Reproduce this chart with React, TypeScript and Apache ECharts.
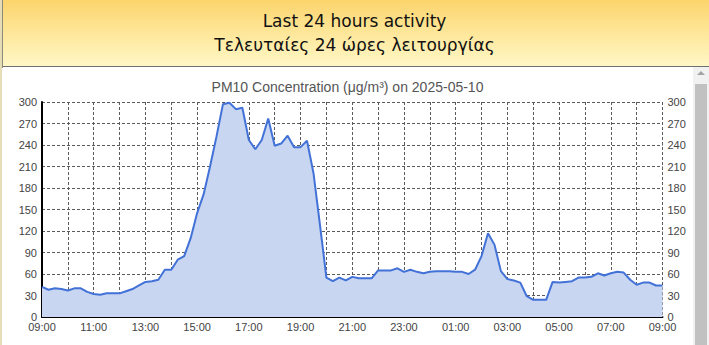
import React, { useEffect, useRef } from "react";
import * as echarts from "echarts";

// 15-minute timestamps from 09:00 to 09:00 next day
const timeLabels: string[] = (() => {
  const out: string[] = [];
  for (let i = 0; i <= 96; i++) {
    const m = (9 * 60 + i * 15) % (24 * 60);
    const h = Math.floor(m / 60);
    const mm = m % 60;
    out.push(`${String(h).padStart(2, "0")}:${String(mm).padStart(2, "0")}`);
  }
  return out;
})();

// PM10 values (µg/m³)
const pm10Values: number[] = [
  42, 38, 40, 39, 37, 40, 40, 35, // 09:00 - 10:45
  32, 31, 33, 33, 33, 36, 39, 44, // 11:00 - 12:45
  49, 50, 52, 66, 66, 80, 85, 110, // 13:00 - 14:45
  145, 171, 210, 252, 297, 299, 290, 292, // 15:00 - 16:45
  247, 234, 247, 277, 239, 242, 253, 237, // 17:00 - 18:45
  237, 246, 201, 129, 55, 50, 55, 51, // 19:00 - 20:45
  56, 54, 54, 54, 65, 65, 65, 68, // 21:00 - 22:45
  63, 66, 63, 61, 63, 64, 64, 64, // 23:00 - 00:45
  63, 63, 60, 66, 85, 117, 101, 64, // 01:00 - 02:45
  53, 51, 48, 29, 24, 24, 24, 49, // 03:00 - 04:45
  48, 49, 50, 55, 55, 56, 61, 58, // 05:00 - 06:45
  61, 63, 62, 52, 45, 48, 48, 44, // 07:00 - 08:45
  44, // 09:00
];

const chartTitle = "PM10 Concentration (\u03bcg/m\u00b3) on 2025-05-10";
const headerLine1 = "Last 24 hours activity";
const headerLine2 = "Τελευταίες 24 ώρες λειτουργίας";

const Y_MIN = 0;
const Y_MAX = 300;
const Y_STEP = 30;

function Chart() {
  const ref = useRef<HTMLDivElement>(null);
  useEffect(() => {
    if (!ref.current) return;
    const chart = echarts.init(ref.current, undefined, { renderer: "svg" });
    const gridLine = { show: true, lineStyle: { color: "#5a5a5a", width: 1, type: [3, 2] as any } };
    const labelStyle = { color: "#444", fontSize: 11, fontFamily: "Liberation Sans, Arial, sans-serif" };
    chart.setOption({
      animation: false,
      backgroundColor: "#ffffff",
      title: {
        text: chartTitle,
        left: "center",
        top: 12,
        padding: 0,
        textStyle: { color: "#555", fontSize: 14, fontWeight: "normal", fontFamily: "Liberation Sans, Arial, sans-serif" },
      },
      grid: { left: 40, right: 30.5, top: 34, bottom: 28, containLabel: false },
      xAxis: {
        type: "category",
        data: timeLabels,
        boundaryGap: false,
        axisLine: { show: true, lineStyle: { color: "#000", width: 2 } },
        axisTick: { show: false },
        axisLabel: { ...labelStyle, interval: 7, margin: 4 },
        splitLine: { ...gridLine, interval: 3 },
      },
      yAxis: [
        {
          type: "value",
          min: Y_MIN,
          max: Y_MAX,
          interval: Y_STEP,
          axisLine: { show: true, lineStyle: { color: "#000", width: 2 } },
          axisTick: { show: false },
          axisLabel: { ...labelStyle, margin: 5, padding: [0, 0, 6, 0] },
          splitLine: gridLine,
        },
        {
          type: "value",
          position: "right",
          min: Y_MIN,
          max: Y_MAX,
          interval: Y_STEP,
          axisLine: { show: false },
          axisTick: { show: false },
          axisLabel: { ...labelStyle, margin: 5, padding: [0, 0, 6, 0] },
          splitLine: { show: false },
        },
      ],
      series: [
        {
          type: "line",
          data: pm10Values,
          yAxisIndex: 0,
          symbol: "none",
          smooth: false,
          lineStyle: { color: "#4272d7", width: 2 },
          itemStyle: { color: "#4272d7" },
          areaStyle: { color: "#c8d6f1", opacity: 1 },
        },
      ],
    });
    return () => chart.dispose();
  }, []);
  return <div ref={ref} style={{ position: "absolute", left: 2, top: 68, width: 691, height: 277 }} />;
}

export default function App() {
  return (
    <div style={{ position: "fixed", left: 0, top: 0, width: 709, height: 345, background: "#fff", overflow: "hidden" }}>
      {/* header */}
      <div
        style={{
          position: "absolute",
          left: 0,
          top: 0,
          width: 709,
          height: 66,
          background: "linear-gradient(to bottom, #fcd46c 0%, #fee79a 50%, #fff7c6 100%)",
          borderBottom: "1px solid #6f6f6f",
          textAlign: "center",
          fontFamily: "DejaVu Sans, Verdana, sans-serif",
          fontSize: 17,
          color: "#111",
        }}
      >
        <div style={{ position: "absolute", left: 0, right: 0, top: 10, lineHeight: "23px" }}>{headerLine1}</div>
        <div style={{ position: "absolute", left: 0, right: 0, top: 34, lineHeight: "23px" }}>{headerLine2}</div>
      </div>
      {/* left border */}
      <div style={{ position: "absolute", left: 0, top: 0, width: 2, height: 345, background: "#e6ddb6" }} />
      <div style={{ position: "absolute", left: 2, top: 0, width: 1, height: 345, background: "#8d8a7c" }} />
      <Chart />
      {/* scrollbar */}
      <div style={{ position: "absolute", left: 693, top: 67, width: 16, height: 278, background: "#f1f1f1" }} />
      <div style={{ position: "absolute", left: 695, top: 84, width: 12, height: 261, background: "#c1c1c1" }} />
      <div
        style={{
          position: "absolute",
          left: 697,
          top: 71,
          width: 0,
          height: 0,
          borderLeft: "4px solid transparent",
          borderRight: "4px solid transparent",
          borderBottom: "4px solid #a3a3a3",
        }}
      />
    </div>
  );
}
